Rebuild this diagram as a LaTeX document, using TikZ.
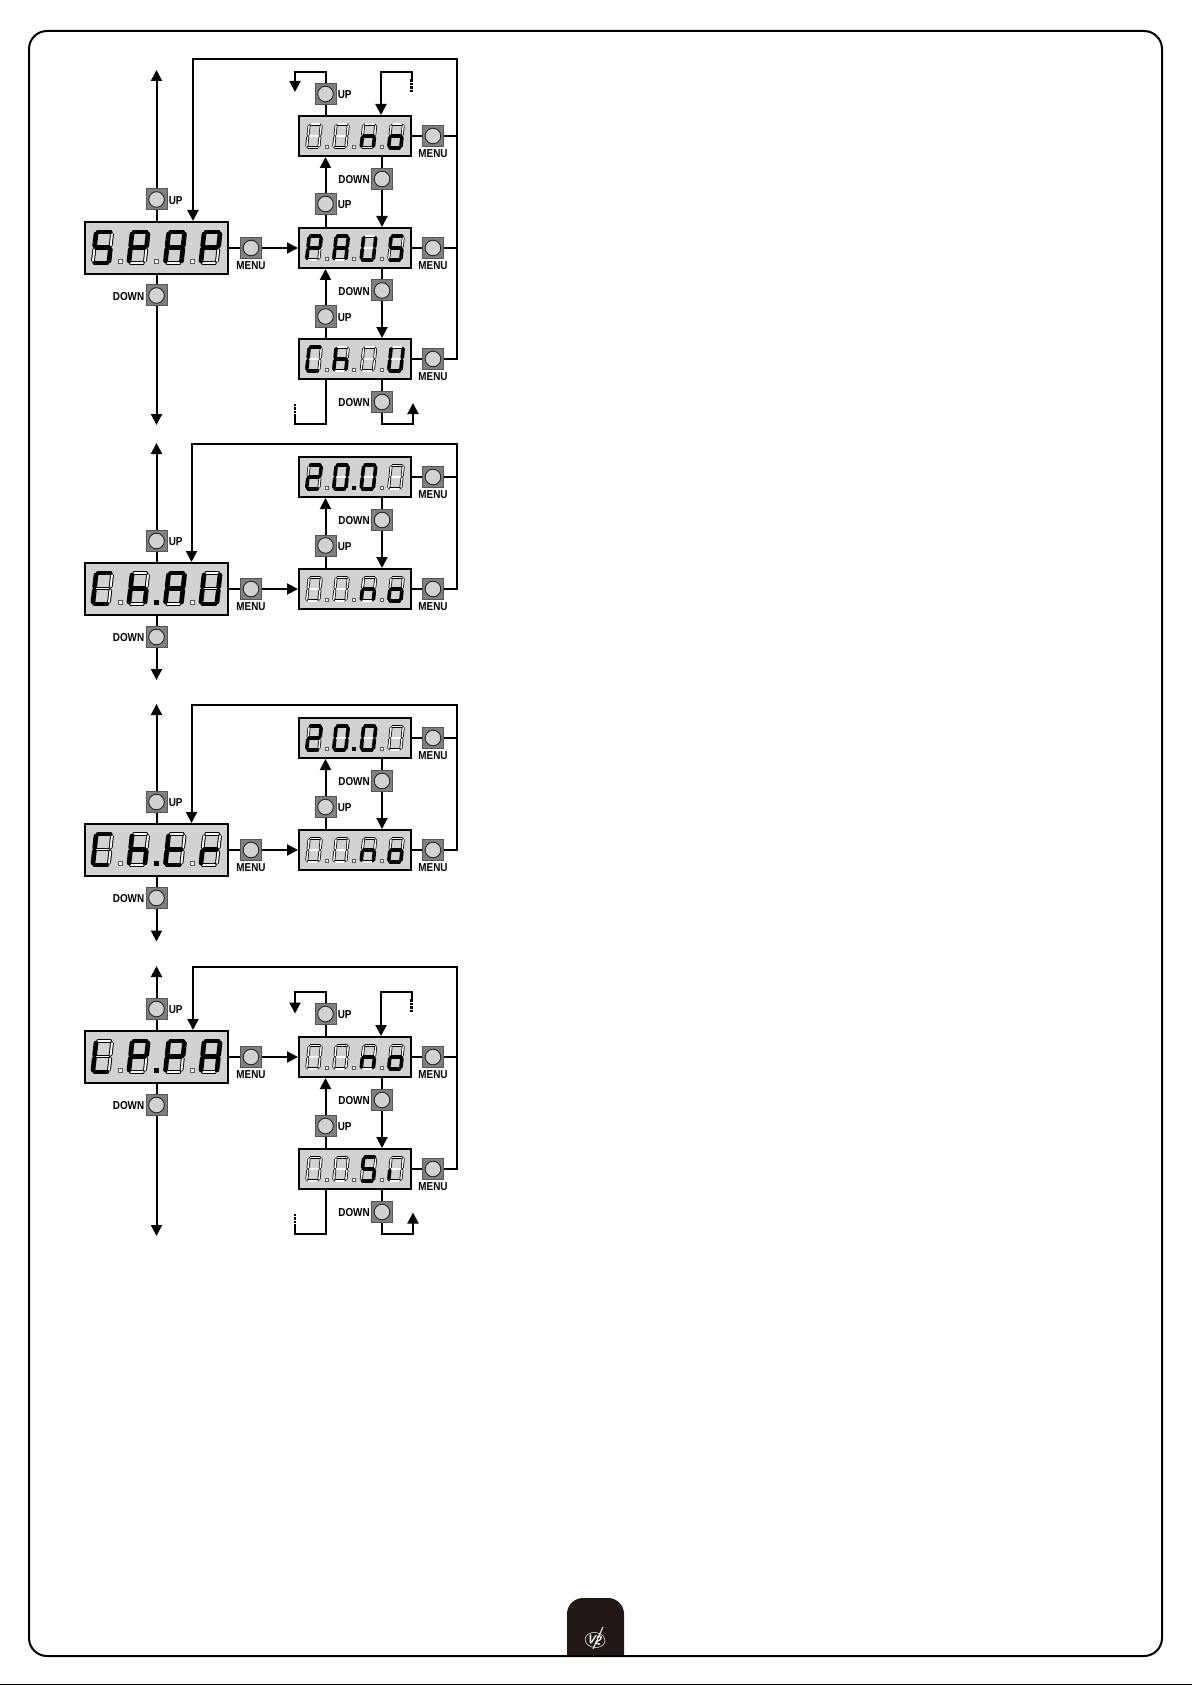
\documentclass[tikz,border=0pt]{standalone}
\usepackage{fontspec}
\usetikzlibrary{arrows.meta,shapes.geometric}
\newfontfamily\lab[FakeStretch=0.86]{Liberation Sans}
\definecolor{lcdgray}{HTML}{D2D2D2}
\definecolor{btngray}{HTML}{808080}
\definecolor{btnedge}{HTML}{555555}
\definecolor{tabdark}{HTML}{231815}
\tikzset{
  wire/.style={line width=2pt,draw=black},
  arrowwire/.style={wire,-{Triangle[length=11pt,width=11pt]}},
  stubdash/.style={line width=2.3pt,dash pattern=on 2.6pt off 1pt},
  bigd/.style={draw=black,line width=2pt,fill=lcdgray,minimum width=143pt,minimum height=52pt,inner sep=0pt},
  smalld/.style={draw=black,line width=2pt,fill=lcdgray,minimum width=112pt,minimum height=40pt,inner sep=0pt},
  btn/.style={draw=btnedge,line width=1pt,fill=btngray,minimum size=21pt,inner sep=0pt,
    path picture={\draw[fill=lcdgray,draw=black!85,line width=0.9pt] (path picture bounding box.center) circle (7.8pt);}},
  btnlab/.style={font=\lab\bfseries\fontsize{11.5}{11.5}\selectfont,inner sep=0.6pt,text=black,yshift=-1pt},
  upb/.style={btn,label={[btnlab,label distance=0.5pt]right:UP}},
  downb/.style={btn,label={[btnlab,label distance=0.5pt]left:DOWN}},
  menub/.style={btn,label={[btnlab,label distance=1pt]below:MENU}},
}
% segment patterns a b c d e f g
\def\GlS{1011011}\def\GlP{1100111}\def\GlA{1110111}\def\GlU{0111110}
\def\GlN{0010101}\def\GlO{0011101}\def\GlB{0000000}\def\GlC{1001110}
\def\GlH{0010111}\def\GlI{0000100}\def\GlT{0001111}\def\GlR{0000101}
\def\GlTwo{1101101}\def\GlZero{1111110}\def\GlL{0001110}
\newcommand\onesegm[3]{%
  \ifnum#1=#2\relax
    \ifnum#2=0
      \draw[black,line width=\segoutw pt,line cap=round] #3;
    \else
      \draw[black,line width=\segonw pt,line cap=round] #3;
    \fi
  \fi}
\newcommand\oneinner[3]{%
  \ifnum#1=0
    \ifnum#2=0 \draw[white,line width=\seginw pt,line cap=round] #3; \fi
  \fi}
\newcommand\segpass[8]{%
  \onesegm{#1}{#8}{(-6,-15.5)--(6,-15.5)}%
  \onesegm{#2}{#8}{(8,-13.4)--(8,-1.8)}%
  \onesegm{#3}{#8}{(8,1.8)--(8,13.4)}%
  \onesegm{#4}{#8}{(-6,15.5)--(6,15.5)}%
  \onesegm{#5}{#8}{(-8,1.8)--(-8,13.4)}%
  \onesegm{#6}{#8}{(-8,-13.4)--(-8,-1.8)}%
  \onesegm{#7}{#8}{(-6,0)--(6,0)}%
  \oneinner{#1}{#8}{(-6,-15.5)--(6,-15.5)}%
  \oneinner{#2}{#8}{(8,-13.4)--(8,-1.8)}%
  \oneinner{#3}{#8}{(8,1.8)--(8,13.4)}%
  \oneinner{#4}{#8}{(-6,15.5)--(6,15.5)}%
  \oneinner{#5}{#8}{(-8,1.8)--(-8,13.4)}%
  \oneinner{#6}{#8}{(-8,-13.4)--(-8,-1.8)}%
  \oneinner{#7}{#8}{(-6,0)--(6,0)}}
\newcommand\digitpass[2]{\expandafter\segpass#1{#2}}
\newcommand\sevenseg[4]{%
  \begin{scope}[shift={(#1,#2)},xslant=0.11,scale=#3]
    \pgfmathsetmacro\segoutw{3.5*#3+0.3}\pgfmathsetmacro\seginw{1.9*#3}\pgfmathsetmacro\segonw{4.7*#3}
    \digitpass{#4}{0}\digitpass{#4}{1}
  \end{scope}}
\newcommand\lcddot[4]{% x y size on
  \ifnum#4=1 \fill[black] (#1-#3/2,#2-#3/2) rectangle (#1+#3/2,#2+#3/2);
  \else \draw[fill=white,draw=black!65,line width=0.6pt] (#1-#3/2,#2-#3/2) rectangle (#1+#3/2,#2+#3/2); \fi}
% big display: centre x,y; glyphs; which dot is lit
\newcommand\bigglyphs[7][0]{%
  \sevenseg{#2-54}{#3}{1}{#4}\sevenseg{#2-18}{#3}{1}{#5}\sevenseg{#2+18.5}{#3}{1}{#6}\sevenseg{#2+54}{#3}{1}{#7}%
  \lcddot{#2-36.5}{#3+14}{4}{0}\lcddot{#2-0.5}{#3+14}{\ifnum#1=2 5\else 4\fi}{\ifnum#1=2 1\else 0\fi}\lcddot{#2+36}{#3+14}{4}{0}}
\newcommand\smallglyphs[7][0]{%
  \sevenseg{#2-41}{#3}{0.76}{#4}\sevenseg{#2-14}{#3}{0.76}{#5}\sevenseg{#2+13.5}{#3}{0.76}{#6}\sevenseg{#2+41}{#3}{0.76}{#7}%
  \lcddot{#2-28.5}{#3+11}{3}{0}\lcddot{#2-1}{#3+11}{\ifnum#1=2 4\else 3\fi}{\ifnum#1=2 1\else 0\fi}\lcddot{#2+26.5}{#3+11}{3}{0}}
\begin{document}
\begin{tikzpicture}[x=1pt,y=-1pt]
\useasboundingbox (0,0) rectangle (1192,1685);
% page frame
\draw[line width=2pt,rounded corners=18pt] (29,31) rectangle (1162,1656);
\fill[tabdark] [rounded corners=16pt] (567,1656) -- (567,1598) -- (624,1598) -- (624,1656);
\draw[line width=2pt] (567,1656) -- (624,1656);
\draw[line width=0.8pt] (0,1684.5) -- (1192,1684.5);
\node[ellipse,draw=white,line width=0.5pt,minimum width=20pt,minimum height=15pt,inner sep=0pt,rotate=-8,
  text=white,font=\lab\bfseries\itshape\fontsize{13}{13}\selectfont] (logo) at (595,1640) {V2};
\coordinate (logoA) at (603,1627); \coordinate (logoB) at (593,1649);
\draw[white,line width=1pt] (logoA) -- (logoB);

%%%%%%% BLOCK 1
\node[bigd] (a0) at (156.5,248) {}; \bigglyphs{156.5}{247.5}{\GlS}{\GlP}{\GlA}{\GlP}
\node[smalld] (an) at (355,136) {}; \smallglyphs{355}{136}{\GlB}{\GlB}{\GlN}{\GlO}
\node[smalld] (ap) at (355,248) {}; \smallglyphs{355}{248}{\GlP}{\GlA}{\GlU}{\GlS}
\node[smalld] (ac) at (355,359) {}; \smallglyphs{355}{359}{\GlC}{\GlH}{\GlB}{\GlU}
\node[upb] (a0u) at (156.5,199.5) {};
\node[downb] (a0d) at (156.5,295.5) {};
\node[menub] (a0m) at (251,248) {};
\node[menub] (anm) at (433,136) {};
\node[menub] (apm) at (433,248) {};
\node[menub] (acm) at (433,359) {};
\node[upb] (atu) at (325.5,94) {};
\node[upb] (apu) at (325.5,204) {};
\node[upb] (acu) at (325.5,316.5) {};
\node[downb] (and) at (382,179) {};
\node[downb] (apd) at (382,290.5) {};
\node[downb] (acd) at (382,402) {};
\coordinate (aR) at (457,59); \coordinate (aL) at (193,59);
\coordinate (a0top) at (156.5,70); \coordinate (a0bot) at (156.5,425);
\draw[wire] (a0.north -| a0u) -- (a0u.south);
\draw[arrowwire] (a0u.north) -- (a0top);
\draw[wire] (a0.south -| a0d) -- (a0d.north);
\draw[arrowwire] (a0d.south) -- (a0bot);
\draw[wire] (a0.east) -- (a0m.west);
\draw[arrowwire] (a0m.east) -- (ap.west);
\draw[arrowwire] (acm.east) -- (acm.east -| aR) -- (aR) -- (aL) -- (aL |- a0.north);
\foreach \d/\m in {an/anm,ap/apm,ac/acm} \draw[wire] (\d.east) -- (\m.west);
\foreach \m in {anm,apm} \draw[wire] (\m.east) -- (\m.east -| aR);
% between displays
\draw[wire] (apu |- ap.north) -- (apu.south);
\draw[arrowwire] (apu.north) -- (apu |- an.south);
\draw[wire] (an.south -| and) -- (and.north);
\draw[arrowwire] (and.south) -- (and |- ap.north);
\draw[wire] (acu |- ac.north) -- (acu.south);
\draw[arrowwire] (acu.north) -- (acu |- ap.south);
\draw[wire] (ap.south -| apd) -- (apd.north);
\draw[arrowwire] (apd.south) -- (apd |- ac.north);
% open ends
\coordinate (aT1) at (325.5,72); \coordinate (aT2) at (295,72); \coordinate (aT3) at (295,92);
\draw[wire] (atu |- an.north) -- (atu.south);
\draw[arrowwire] (atu.north) -- (aT1) -- (aT2) -- (aT3);
\coordinate (aS1) at (411.5,79); \coordinate (aS2) at (411.5,72); \coordinate (aS3) at (381,72); \coordinate (aS4) at (411.5,92);
\draw[arrowwire] (aS1) -- (aS2) -- (aS3) -- (aS3 |- an.north);
\draw[stubdash] (aS1) -- (aS4);
\coordinate (aB1) at (325.5,424); \coordinate (aB2) at (295,424); \coordinate (aB3) at (295,417); \coordinate (aB4) at (295,404);
\draw[wire] (aB1 |- ac.south) -- (aB1) -- (aB2) -- (aB3);
\draw[stubdash] (aB3) -- (aB4);
\coordinate (aD1) at (382,424); \coordinate (aD2) at (413,424); \coordinate (aD3) at (413,403);
\draw[wire] (acd |- ac.south) -- (acd.north);
\draw[arrowwire] (acd.south) -- (aD1) -- (aD2) -- (aD3);

%%%%%%% BLOCK 2
\node[bigd] (b0) at (156.5,589) {}; \bigglyphs[2]{156.5}{588.5}{\GlC}{\GlH}{\GlA}{\GlU}
\node[smalld] (bt) at (355,477) {}; \smallglyphs[2]{355}{477}{\GlTwo}{\GlZero}{\GlZero}{\GlB}
\node[smalld] (bn) at (355,589) {}; \smallglyphs{355}{589}{\GlB}{\GlB}{\GlN}{\GlO}
\node[upb] (b0u) at (156.5,541) {};
\node[downb] (b0d) at (156.5,637) {};
\node[menub] (b0m) at (251,589) {};
\node[menub] (btm) at (433,477) {};
\node[menub] (bnm) at (433,589) {};
\node[upb] (bnu) at (325.5,545.5) {};
\node[downb] (btd) at (382,520) {};
\coordinate (bR) at (456.5,443.5); \coordinate (bL) at (191.5,443.5);
\coordinate (b0top) at (156.5,443); \coordinate (b0bot) at (156.5,680);
\draw[wire] (b0.north -| b0u) -- (b0u.south);
\draw[arrowwire] (b0u.north) -- (b0top);
\draw[wire] (b0.south -| b0d) -- (b0d.north);
\draw[arrowwire] (b0d.south) -- (b0bot);
\draw[wire] (b0.east) -- (b0m.west);
\draw[arrowwire] (b0m.east) -- (bn.west);
\draw[arrowwire] (bnm.east) -- (bnm.east -| bR) -- (bR) -- (bL) -- (bL |- b0.north);
\draw[wire] (bt.east) -- (btm.west);
\draw[wire] (bn.east) -- (bnm.west);
\draw[wire] (btm.east) -- (btm.east -| bR);
\draw[wire] (bnu |- bn.north) -- (bnu.south);
\draw[arrowwire] (bnu.north) -- (bnu |- bt.south);
\draw[wire] (bt.south -| btd) -- (btd.north);
\draw[arrowwire] (btd.south) -- (btd |- bn.north);

%%%%%%% BLOCK 3
\node[bigd] (c0) at (156.5,850) {}; \bigglyphs[2]{156.5}{849.5}{\GlC}{\GlH}{\GlT}{\GlR}
\node[smalld] (ct) at (355,738) {}; \smallglyphs[2]{355}{738}{\GlTwo}{\GlZero}{\GlZero}{\GlB}
\node[smalld] (cn) at (355,850) {}; \smallglyphs{355}{850}{\GlB}{\GlB}{\GlN}{\GlO}
\node[upb] (c0u) at (156.5,802) {};
\node[downb] (c0d) at (156.5,898) {};
\node[menub] (c0m) at (251,850) {};
\node[menub] (ctm) at (433,738) {};
\node[menub] (cnm) at (433,850) {};
\node[upb] (cnu) at (325.5,807) {};
\node[downb] (ctd) at (382,781) {};
\coordinate (cR) at (456.5,705); \coordinate (cL) at (191.5,705);
\coordinate (c0top) at (156.5,704); \coordinate (c0bot) at (156.5,941.5);
\draw[wire] (c0.north -| c0u) -- (c0u.south);
\draw[arrowwire] (c0u.north) -- (c0top);
\draw[wire] (c0.south -| c0d) -- (c0d.north);
\draw[arrowwire] (c0d.south) -- (c0bot);
\draw[wire] (c0.east) -- (c0m.west);
\draw[arrowwire] (c0m.east) -- (cn.west);
\draw[arrowwire] (cnm.east) -- (cnm.east -| cR) -- (cR) -- (cL) -- (cL |- c0.north);
\draw[wire] (ct.east) -- (ctm.west);
\draw[wire] (cn.east) -- (cnm.west);
\draw[wire] (ctm.east) -- (ctm.east -| cR);
\draw[wire] (cnu |- cn.north) -- (cnu.south);
\draw[arrowwire] (cnu.north) -- (cnu |- ct.south);
\draw[wire] (ct.south -| ctd) -- (ctd.north);
\draw[arrowwire] (ctd.south) -- (ctd |- cn.north);

%%%%%%% BLOCK 4
\node[bigd] (e0) at (156.5,1057) {}; \bigglyphs[2]{156.5}{1056.5}{\GlL}{\GlP}{\GlP}{\GlA}
\node[smalld] (en) at (355,1057) {}; \smallglyphs{355}{1057}{\GlB}{\GlB}{\GlN}{\GlO}
\node[smalld] (es) at (355,1169) {}; \smallglyphs{355}{1169}{\GlB}{\GlB}{\GlS}{\GlI}
\node[upb] (e0u) at (156.5,1009) {};
\node[downb] (e0d) at (156.5,1105) {};
\node[menub] (e0m) at (251,1057) {};
\node[menub] (enm) at (433,1057) {};
\node[menub] (esm) at (433,1169) {};
\node[upb] (etu) at (325.5,1014) {};
\node[upb] (esu) at (325.5,1126) {};
\node[downb] (end) at (382,1100) {};
\node[downb] (esd) at (382,1212) {};
\coordinate (eR) at (456.5,966.5); \coordinate (eL) at (193,966.5);
\coordinate (e0top) at (156.5,966); \coordinate (e0bot) at (156.5,1236);
\draw[wire] (e0.north -| e0u) -- (e0u.south);
\draw[arrowwire] (e0u.north) -- (e0top);
\draw[wire] (e0.south -| e0d) -- (e0d.north);
\draw[arrowwire] (e0d.south) -- (e0bot);
\draw[wire] (e0.east) -- (e0m.west);
\draw[arrowwire] (e0m.east) -- (en.west);
\draw[arrowwire] (esm.east) -- (esm.east -| eR) -- (eR) -- (eL) -- (eL |- e0.north);
\draw[wire] (en.east) -- (enm.west);
\draw[wire] (es.east) -- (esm.west);
\draw[wire] (enm.east) -- (enm.east -| eR);
\draw[wire] (esu |- es.north) -- (esu.south);
\draw[arrowwire] (esu.north) -- (esu |- en.south);
\draw[wire] (en.south -| end) -- (end.north);
\draw[arrowwire] (end.south) -- (end |- es.north);
\coordinate (eT1) at (325.5,992); \coordinate (eT2) at (295,992); \coordinate (eT3) at (295,1013.5);
\draw[wire] (etu |- en.north) -- (etu.south);
\draw[arrowwire] (etu.north) -- (eT1) -- (eT2) -- (eT3);
\coordinate (eS1) at (411.5,999); \coordinate (eS2) at (411.5,992); \coordinate (eS3) at (381,992); \coordinate (eS4) at (411.5,1013);
\draw[arrowwire] (eS1) -- (eS2) -- (eS3) -- (eS3 |- en.north);
\draw[stubdash] (eS1) -- (eS4);
\coordinate (eB1) at (325.5,1234); \coordinate (eB2) at (295,1234); \coordinate (eB3) at (295,1227); \coordinate (eB4) at (295,1213);
\draw[wire] (eB1 |- es.south) -- (eB1) -- (eB2) -- (eB3);
\draw[stubdash] (eB3) -- (eB4);
\coordinate (eD1) at (382,1234); \coordinate (eD2) at (413,1234); \coordinate (eD3) at (413,1212.5);
\draw[wire] (esd |- es.south) -- (esd.north);
\draw[arrowwire] (esd.south) -- (eD1) -- (eD2) -- (eD3);
\end{tikzpicture}
\end{document}
